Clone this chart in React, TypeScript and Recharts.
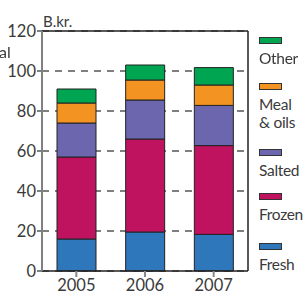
import { Bar, BarChart, CartesianGrid, ReferenceLine, XAxis, YAxis } from "recharts";

const years = ["2005", "2006", "2007"];
const fresh = [16, 19.5, 18.3];
const frozen = [41, 46.5, 44.4];
const salted = [17, 19.5, 20.1];
const meal = [10, 10, 10.2];
const other = [7, 7.5, 8.7];
const yTicks = [0, 20, 40, 60, 80, 100, 120];

const COLORS = {
  fresh: "#2f77bb",
  frozen: "#bf1360",
  salted: "#6b66ae",
  meal: "#f39422",
  other: "#00a551",
};

const legendItems = [
  { label: ["Other"], color: COLORS.other, top: 37 },
  { label: ["Meal", "& oils"], color: COLORS.meal, top: 83 },
  { label: ["Salted"], color: COLORS.salted, top: 149 },
  { label: ["Frozen"], color: COLORS.frozen, top: 193 },
  { label: ["Fresh"], color: COLORS.fresh, top: 243 },
];

const FONT = "Lato, 'Open Sans', sans-serif";

const data = years.map((year, i) => ({
  year,
  Fresh: fresh[i],
  Frozen: frozen[i],
  Salted: salted[i],
  Meal: meal[i],
  Other: other[i],
}));

export default function App() {
  const barProps = { stackId: "a", stroke: "#222", strokeWidth: 1, isAnimationActive: false };
  return (
    <div style={{ position: "fixed", left: 0, top: 0, width: 304, height: 298, background: "#fff", fontFamily: FONT, color: "#3a3a3a" }}>
      <BarChart
        width={304}
        height={298}
        data={data}
        margin={{ top: 31, right: 55, left: 0, bottom: 0 }}
        barSize={39}
      >
        <CartesianGrid vertical={false} stroke="#555" strokeDasharray="7 6" strokeWidth={1.3} />
        <XAxis
          dataKey="year"
          height={27}
          axisLine={{ stroke: "#222", strokeWidth: 1.5 }}
          tickLine={{ stroke: "#888", strokeWidth: 2 }}
          tickSize={6}
          tick={{ fill: "#3a3a3a", fontSize: 16.5, fontFamily: FONT }}
          interval={0}
        />
        <YAxis
          width={42}
          domain={[0, 120]}
          ticks={yTicks}
          axisLine={{ stroke: "#808080", strokeWidth: 2 }}
          tickLine={{ stroke: "#808080", strokeWidth: 2 }}
          tickSize={5}
          tickMargin={1}
          tick={{ fill: "#3a3a3a", fontSize: 16.5, fontFamily: FONT }}
        />
        <YAxis
          yAxisId="r"
          orientation="right"
          width={1}
          tick={false}
          tickLine={false}
          axisLine={{ stroke: "#222", strokeWidth: 1.5 }}
        />
        <ReferenceLine y={120} stroke="#222" strokeWidth={1.5} />
        <Bar dataKey="Fresh" fill={COLORS.fresh} {...barProps} />
        <Bar dataKey="Frozen" fill={COLORS.frozen} {...barProps} />
        <Bar dataKey="Salted" fill={COLORS.salted} {...barProps} />
        <Bar dataKey="Meal" fill={COLORS.meal} {...barProps} />
        <Bar dataKey="Other" fill={COLORS.other} {...barProps} />
      </BarChart>

      <div style={{ position: "absolute", left: 43, top: 12, fontSize: 15, lineHeight: "18px" }}>B.kr.</div>
      <div style={{ position: "absolute", left: -1, top: 43, fontSize: 16, lineHeight: "18px" }}>al</div>

      {legendItems.map((item) => (
        <div key={item.label.join(" ")} style={{ position: "absolute", left: 259, top: item.top }}>
          <div style={{ width: 21, height: 5, background: item.color, border: "1px solid #333" }} />
          <div style={{ fontSize: 15.5, lineHeight: "18px", marginTop: 5, letterSpacing: -0.3, whiteSpace: "nowrap" }}>
            {item.label.map((l) => (
              <div key={l}>{l}</div>
            ))}
          </div>
        </div>
      ))}
    </div>
  );
}
